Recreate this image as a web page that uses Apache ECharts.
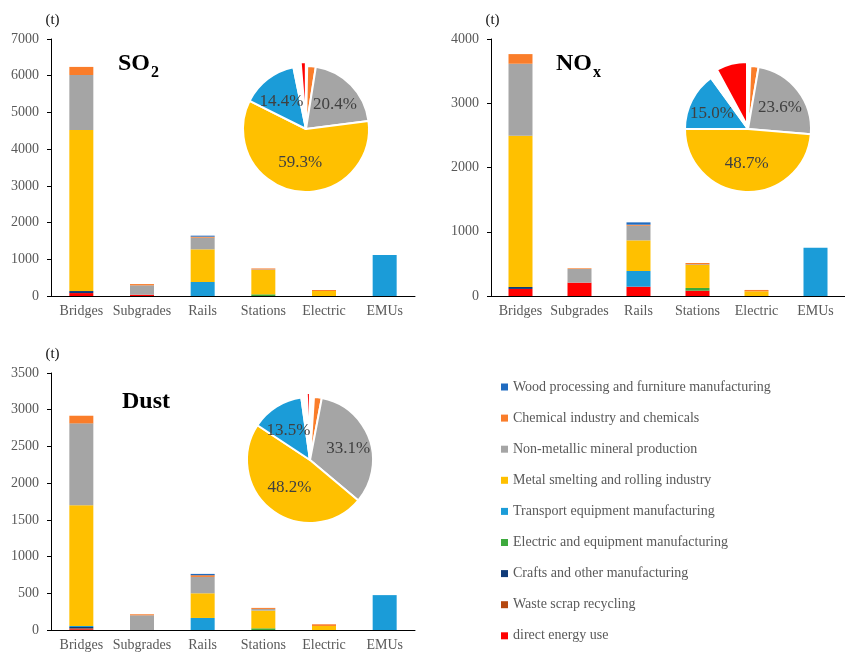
<!DOCTYPE html>
<html>
<head>
<meta charset="utf-8">
<script src="https://cdn.jsdelivr.net/npm/echarts@6/dist/echarts.min.js"></script>
<style>html,body{margin:0;padding:0;background:#fff}#c{width:845px;height:652px}</style>
</head>
<body>
<div id="c"></div>
<script>
// ---- Data ----
const categories = ['Bridges', 'Subgrades', 'Rails', 'Stations', 'Electric', 'EMUs'];
const sources = [
  'Wood processing and furniture manufacturing',
  'Chemical industry and chemicals',
  'Non-metallic mineral production',
  'Metal smelting and rolling industry',
  'Transport equipment manufacturing',
  'Electric and equipment manufacturing',
  'Crafts and other manufacturing',
  'Waste scrap recycling',
  'direct energy use'
];
const sourceColors = ['#1F6BC0', '#FA7D2A', '#A5A5A5', '#FFC000', '#1B9CD8', '#3DAA3D', '#0F3A78', '#B5470F', '#FF0000'];
const pieColors = ['#FFFFFF', '#FA7D2A', '#A5A5A5', '#FFC000', '#1B9CD8', '#FFFFFF', '#FFFFFF', '#FFFFFF', '#FF0000'];

// SO2 (t), one array per source, values per category
const so2Wood      = [0, 0, 27, 0, 0, 0];
const so2Chem      = [220, 35, 27, 25, 27, 0];
const so2NonMetal  = [1500, 255, 318, 15, 0, 0];
const so2Metal     = [4385, 0, 890, 665, 136, 0];
const so2Transport = [0, 0, 381, 0, 0, 1115];
const so2Electric  = [0, 0, 0, 45, 0, 0];
const so2Crafts    = [55, 0, 0, 0, 0, 0];
const so2Waste     = [0, 0, 0, 0, 0, 0];
const so2Direct    = [80, 35, 0, 0, 0, 0];

// NOx (t)
const noxWood      = [0, 0, 36, 0, 0, 0];
const noxChem      = [150, 10, 16, 20, 21, 0];
const noxNonMetal  = [1120, 213, 228, 11, 0, 0];
const noxMetal     = [2355, 0, 477, 358, 73, 0];
const noxTransport = [0, 0, 244, 0, 0, 750];
const noxElectric  = [0, 0, 0, 42, 0, 0];
const noxCrafts    = [30, 0, 0, 0, 0, 0];
const noxWaste     = [0, 0, 0, 0, 0, 0];
const noxDirect    = [110, 208, 145, 83, 0, 0];

// Dust (t)
const dustWood      = [0, 0, 18, 0, 0, 0];
const dustChem      = [104, 14, 23, 14, 23, 0];
const dustNonMetal  = [1114, 200, 223, 23, 0, 0];
const dustMetal     = [1645, 0, 336, 241, 55, 0];
const dustTransport = [14, 0, 164, 0, 0, 475];
const dustElectric  = [0, 0, 0, 23, 0, 0];
const dustCrafts    = [18, 0, 0, 0, 0, 0];
const dustWaste     = [13, 0, 0, 0, 0, 0];
const dustDirect    = [10, 0, 0, 0, 0, 0];

// Pie shares (%), in source order
const so2Share  = [0.3, 2.2, 20.4, 59.3, 14.4, 0.6, 0.8, 0.5, 1.3];
const noxShare  = [0.6, 2.1, 23.6, 48.7, 15.0, 0.8, 0.7, 0.6, 7.9];
const dustShare = [1.0, 2.0, 33.1, 48.2, 13.5, 0.5, 0.5, 0.4, 0.8];

// Y axis ticks
const so2Max = 7000, so2Step = 1000;
const noxMax = 4000, noxStep = 1000;
const dustMax = 3500, dustStep = 500;

// ---- Build ----
const SERIF = "'Liberation Serif', 'Times New Roman', serif";
const panels = [
  {bars: [so2Wood, so2Chem, so2NonMetal, so2Metal, so2Transport, so2Electric, so2Crafts, so2Waste, so2Direct], share: so2Share, max: so2Max, step: so2Step,
   grid: {left: 51, top: 39, width: 364, height: 257}, pie: [306, 129], title: {sub: '2', main: 'SO', left: 118, top: 50}},
  {bars: [noxWood, noxChem, noxNonMetal, noxMetal, noxTransport, noxElectric, noxCrafts, noxWaste, noxDirect], share: noxShare, max: noxMax, step: noxStep,
   grid: {left: 491, top: 39, width: 354, height: 257}, pie: [748, 129], title: {sub: 'x', main: 'NO', left: 556, top: 50}},
  {bars: [dustWood, dustChem, dustNonMetal, dustMetal, dustTransport, dustElectric, dustCrafts, dustWaste, dustDirect], share: dustShare, max: dustMax, step: dustStep,
   grid: {left: 51, top: 373, width: 364, height: 257}, pie: [310, 460], title: {sub: '', main: 'Dust', left: 122, top: 388}}
];

const grids = [], xAxes = [], yAxes = [], series = [], titles = [];
panels.forEach((p, i) => {
  grids.push(p.grid);
  xAxes.push({
    type: 'category', gridIndex: i, data: categories,
    axisLine: {lineStyle: {color: '#000', width: 1}},
    axisTick: {inside: true, length: 4, lineStyle: {color: '#000'}},
    axisLabel: {color: '#595959', fontSize: 14, fontFamily: SERIF, margin: 8, interval: 0}
  });
  yAxes.push({
    type: 'value', gridIndex: i, min: 0, max: p.max, interval: p.step,
    name: '(t)', nameLocation: 'end', nameGap: 11,
    nameTextStyle: {color: '#111', fontSize: 15, fontFamily: SERIF, align: 'center', padding: [0, 0, 0, 3]},
    axisLine: {show: true, lineStyle: {color: '#000', width: 1}},
    axisTick: {show: true, length: 4, lineStyle: {color: '#000'}},
    splitLine: {show: false},
    axisLabel: {color: '#595959', fontSize: 14, fontFamily: SERIF, margin: 12, formatter: v => String(v)}
  });
  // stack from bottom: direct energy first ... wood last
  for (let s = sources.length - 1; s >= 0; s--) {
    series.push({
      type: 'bar', name: sources[s], xAxisIndex: i, yAxisIndex: i, stack: 'st' + i,
      data: p.bars[s], barWidth: 24, itemStyle: {color: sourceColors[s]},
      emphasis: {disabled: true}
    });
  }
  titles.push({
    text: '{a|' + p.title.main + '}' + (p.title.sub ? '{b|' + p.title.sub + '}' : ''),
    left: p.title.left, top: p.title.top, padding: 0,
    textStyle: {rich: {
      a: {fontSize: 24, fontWeight: 'bold', fontFamily: SERIF, color: '#000', lineHeight: 26, verticalAlign: 'bottom'},
      b: {fontSize: 16, fontWeight: 'bold', fontFamily: SERIF, color: '#000', lineHeight: 16, verticalAlign: 'bottom', padding: [0, 0, -5, 1]}
    }}
  });
});

// push the inside labels of the smaller slices a little outward (as in the reference)
function labelNudge(shares, s) {
  const total = shares.reduce((a, b) => a + b, 0);
  let cum = 0;
  for (let k = 0; k < s; k++) cum += shares[k];
  const mid = (cum + shares[s] / 2) / total * 2 * Math.PI;
  const k = shares[s] < 40 ? 6 : 0;
  const dx = k * Math.sin(mid), dy = -k * Math.cos(mid);
  return [Math.max(0, 2 * dy), Math.max(0, -2 * dx), Math.max(0, -2 * dy), Math.max(0, 2 * dx)];
}

panels.forEach((p, i) => {
  series.push({
    type: 'pie', center: p.pie, radius: 63, startAngle: 90, clockwise: true,
    selectedMode: 'multiple', selectedOffset: 4,
    emphasis: {disabled: true}, silent: true,
    itemStyle: {borderColor: '#fff', borderWidth: 2},
    label: {position: 'inside', color: '#404040', fontSize: 17, fontFamily: SERIF,
            formatter: d => d.value.toFixed(1) + '%'},
    labelLine: {show: false},
    data: sources.map((n, s) => ({
      name: n, value: p.share[s],
      selected: s === sources.length - 1,
      itemStyle: {color: pieColors[s]},
      label: {show: p.share[s] >= 10, padding: labelNudge(p.share, s)}
    }))
  });
});

const chart = echarts.init(document.getElementById('c'), null, {renderer: 'canvas'});
chart.setOption({
  animation: false,
  backgroundColor: '#fff',
  title: titles,
  grid: grids,
  xAxis: xAxes,
  yAxis: yAxes,
  legend: {
    data: sources, orient: 'vertical', left: 496, top: 375,
    itemWidth: 7, itemHeight: 7, itemGap: 17.1, icon: 'rect', selectedMode: false,
    textStyle: {color: '#595959', fontSize: 14, fontFamily: SERIF, lineHeight: 14}
  },
  series: series
});
</script>
</body>
</html>
